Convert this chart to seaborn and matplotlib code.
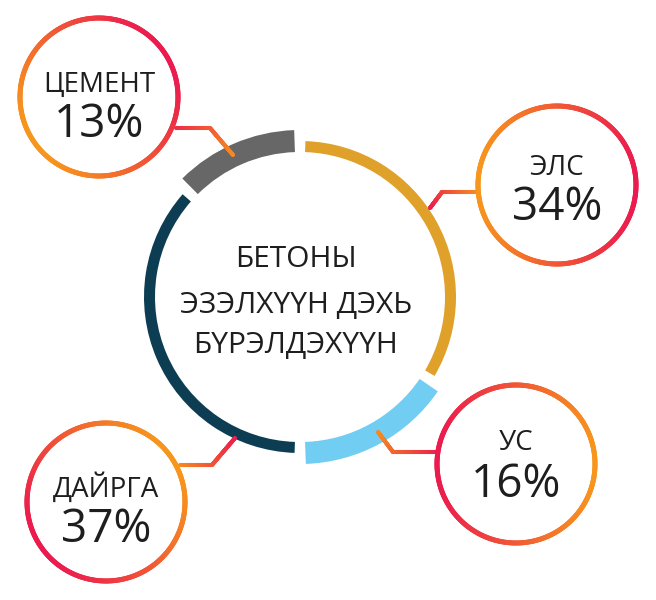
import matplotlib
matplotlib.use("Agg")
import matplotlib.pyplot as plt
from matplotlib.collections import LineCollection
import numpy as np
import seaborn as sns

# data
parts = ["ЭЛС", "УС", "ДАЙРГА", "ЦЕМЕНТ"]
shares = [34, 16, 37, 13]
part_colors = ["#E0A12B", "#72CDF2", "#0D3D53", "#676767"]
center_lines = ["БЕТОНЫ", "ЭЗЭЛХҮҮН ДЭХЬ", "БҮРЭЛДЭХҮҮН"]

W, H = 656, 600
CX, CY = 300, 297
R_IN = 145
R_OUT = [156, 167, 156, 167]
GAP = 4.0

# label bubbles (image pixel coords): circle centre, gradient direction,
# connector polyline from the bubble edge to the ring, connector colour at ends
bubbles = {
    "ЦЕМЕНТ": dict(c=(99, 97), gdir=35, name_y=92, pct_y=137,
                   path=[(176, 128), (210, 128), (233, 155)], t=(0.85, 0.1)),
    "ЭЛС": dict(c=(557, 185), gdir=0, name_y=175, pct_y=220,
                path=[(478, 192), (442, 192), (430, 208)], t=(0.05, 0.95)),
    "УС": dict(c=(516, 464), gdir=180, name_y=450, pct_y=497,
               path=[(437, 452), (393, 452), (378, 432)], t=(0.95, 0.1)),
    "ДАЙРГА": dict(c=(106, 502), gdir=215, name_y=497, pct_y=542,
                   path=[(180, 465), (212, 465), (235, 438)], t=(0.1, 0.95)),
}
R_BUB = 79

sns.set_theme(style="white")
plt.rcParams["font.family"] = ["Open Sans", "DejaVu Sans"]
grad = sns.blend_palette(["#F7961C", "#EB1A4F"], as_cmap=True)


def Y(y):
    return H - y


def gradient_path(ax, pts, t0, t1, lw):
    pts = np.asarray(pts, float)
    seg_len = np.hypot(*np.diff(pts, axis=0).T)
    s = np.concatenate([[0], np.cumsum(seg_len)])
    u = np.linspace(0, s[-1], 200)
    x = np.interp(u, s, pts[:, 0])
    y = np.interp(u, s, pts[:, 1])
    xy = np.column_stack([x, [Y(v) for v in y]])
    segs = np.stack([xy[:-1], xy[1:]], axis=1)
    tt = t0 + (t1 - t0) * (u[:-1] / s[-1])
    lc = LineCollection(segs, colors=grad(tt), linewidths=lw, capstyle="round")
    ax.add_collection(lc)


def gradient_circle(ax, c, r, gdir, lw):
    th = np.linspace(0, 2 * np.pi, 361)
    x = c[0] + r * np.cos(th)
    y = Y(c[1]) + r * np.sin(th)
    xy = np.column_stack([x, y])
    segs = np.stack([xy[:-1], xy[1:]], axis=1)
    mid = (th[:-1] + th[1:]) / 2
    a = np.deg2rad(gdir)
    tt = (np.cos(mid - a) + 1) / 2
    lc = LineCollection(segs, colors=grad(tt), linewidths=lw, capstyle="round")
    ax.add_collection(lc)


fig = plt.figure(figsize=(W / 100, H / 100), dpi=100)
ax = fig.add_axes([0, 0, 1, 1])

wedges, _ = ax.pie(shares, colors=part_colors, startangle=90, counterclock=False,
                   center=(CX, Y(CY)), radius=R_OUT[0],
                   wedgeprops=dict(width=R_OUT[0] - R_IN, linewidth=0))
for w, ro in zip(wedges, R_OUT):
    w.set_theta1(w.theta1 + GAP / 2)
    w.set_theta2(w.theta2 - GAP / 2)
    w.set_radius(ro)
    w.set_width(ro - R_IN)

baselines = [267, 313, 353]
for line, yb in zip(center_lines, baselines):
    ax.text(CX - 4, Y(yb), line, ha="center", va="baseline",
            fontsize=21.5, color="#1e1e1e")

for name, pct in zip(parts, shares):
    b = bubbles[name]
    gradient_path(ax, b["path"], b["t"][0], b["t"][1], lw=2.9)
    gradient_circle(ax, b["c"], R_BUB, b["gdir"], lw=3.6)
    ax.text(b["c"][0], Y(b["name_y"]), name, ha="center", va="baseline",
            fontsize=20, color="#1e1e1e")
    ax.text(b["c"][0], Y(b["pct_y"]), f"{pct}%", ha="center", va="baseline",
            fontsize=33, color="#1e1e1e")

ax.set_xlim(0, W)
ax.set_ylim(0, H)
ax.set_aspect("equal")
ax.axis("off")

fig.savefig("out.png", dpi=100, facecolor="white")
